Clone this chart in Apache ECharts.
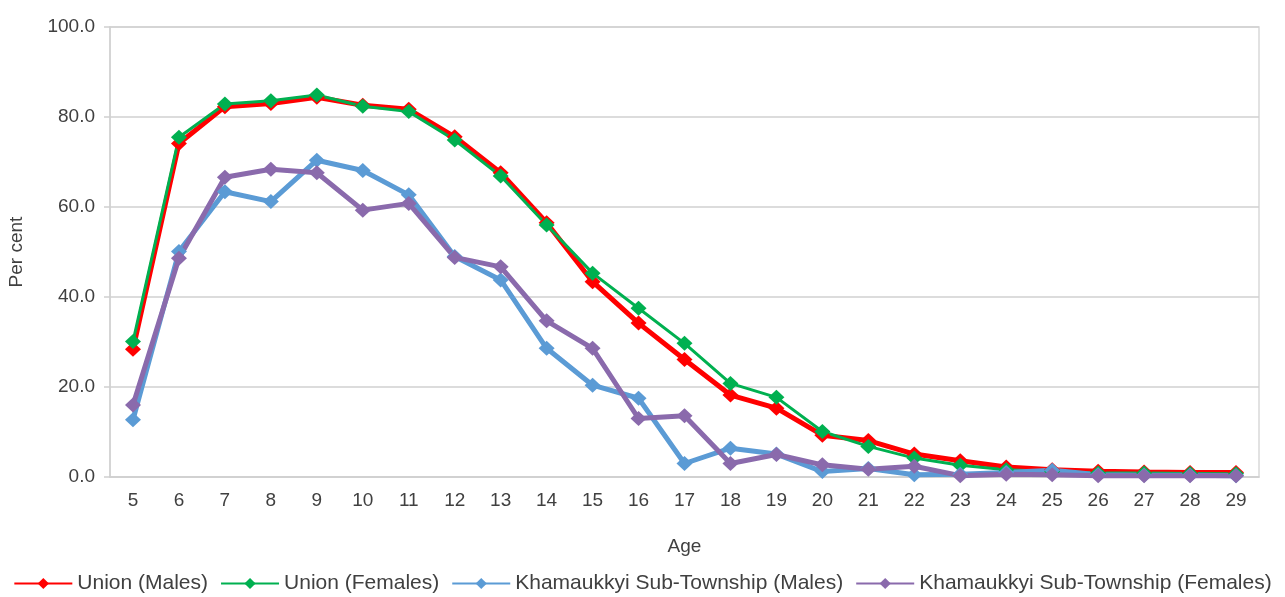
<!DOCTYPE html>
<html>
<head>
<meta charset="utf-8">
<title>Per cent by age</title>
<script src="https://cdn.jsdelivr.net/npm/echarts@6/dist/echarts.min.js"></script>
<style>
  html, body { margin: 0; padding: 0; background: #fff; }
  #chart { width: 1285px; height: 597px; }
</style>
</head>
<body>
<div id="chart"></div>
<script>
// 年龄 5-29
var ages = ['5', '6', '7', '8', '9', '10', '11', '12', '13', '14', '15', '16', '17',
  '18', '19', '20', '21', '22', '23', '24', '25', '26', '27', '28', '29']

var unionMales = [28.4, 74.1, 82.3, 83.0, 84.4, 82.6, 81.7, 75.6, 67.6, 56.5, 43.4, 34.2, 26.1,
  18.2, 15.3, 9.3, 8.1, 5.1, 3.6, 2.2, 1.6, 1.3, 1.1, 1.0, 1.0]
var unionFemales = [30.1, 75.5, 82.9, 83.6, 84.9, 82.4, 81.2, 74.9, 66.9, 56.0, 45.3, 37.5, 29.7,
  20.8, 17.7, 10.1, 6.8, 4.2, 2.6, 1.6, 1.2, 0.9, 0.9, 0.8, 0.7]
var khamMales = [12.7, 50.1, 63.4, 61.2, 70.4, 68.1, 62.7, 49.0, 43.8, 28.6, 20.4, 17.5, 3.0,
  6.4, 5.1, 1.2, 1.9, 0.5, 0.6, 1.0, 1.5, 0.5, 0.4, 0.4, 0.3]
var khamFemales = [16.0, 48.6, 66.6, 68.4, 67.6, 59.3, 60.8, 48.8, 46.7, 34.7, 28.6, 13.0, 13.6,
  3.0, 5.0, 2.7, 1.7, 2.4, 0.3, 0.6, 0.5, 0.3, 0.3, 0.3, 0.3]

var yTicks = [0, 20, 40, 60, 80, 100]

var font = 'Liberation Sans, Arial, sans-serif'

function lineSeries (name, data, color, width) {
  return {
    name: name,
    type: 'line',
    data: data,
    symbol: 'diamond',
    symbolSize: [16, 15],
    lineStyle: { color: color, width: width },
    itemStyle: { color: color },
    emphasis: { disabled: true },
    animation: false
  }
}

var chart = echarts.init(document.getElementById('chart'))
var option = {
  backgroundColor: '#fff',
  textStyle: { fontFamily: font },
  grid: {
    left: 110,
    right: 26,
    top: 27,
    bottom: 120,
    outerBoundsMode: 'none',
    show: true,
    borderColor: '#D9D9D9',
    borderWidth: 1.5
  },
  legend: {
    bottom: -2,
    left: 'center',
    itemWidth: 58,
    itemHeight: 14,
    itemGap: 12,
    textStyle: { fontSize: 21, color: '#404040', fontFamily: font },
    data: ['Union (Males)', 'Union (Females)', 'Khamaukkyi Sub-Township (Males)', 'Khamaukkyi Sub-Township (Females)']
  },
  xAxis: {
    type: 'category',
    data: ages,
    boundaryGap: true,
    name: 'Age',
    nameLocation: 'middle',
    nameGap: 60,
    nameTextStyle: { fontSize: 19, color: '#404040' },
    axisLine: { lineStyle: { color: '#D0D0D0', width: 1.5 } },
    axisTick: { show: false },
    axisLabel: { fontSize: 19, color: '#404040', margin: 14 }
  },
  yAxis: {
    type: 'value',
    min: yTicks[0],
    max: yTicks[yTicks.length - 1],
    interval: 20,
    name: 'Per cent',
    nameLocation: 'middle',
    nameGap: 84,
    nameTextStyle: { fontSize: 19, color: '#404040' },
    axisLine: { show: true, lineStyle: { color: '#D0D0D0', width: 1.5 } },
    axisTick: { show: true, length: 6, lineStyle: { color: '#D0D0D0', width: 1.5 } },
    axisLabel: {
      fontSize: 19,
      color: '#404040',
      margin: 15,
      formatter: function (v) { return v.toFixed(1) }
    },
    splitLine: { lineStyle: { color: '#D0D0D0', width: 1.5 } }
  },
  series: [
    lineSeries('Union (Males)', unionMales, '#FF0000', 5),
    lineSeries('Union (Females)', unionFemales, '#00B050', 3),
    lineSeries('Khamaukkyi Sub-Township (Males)', khamMales, '#5B9BD5', 5),
    lineSeries('Khamaukkyi Sub-Township (Females)', khamFemales, '#8A6AAC', 5)
  ]
}

chart.setOption(option)
window.addEventListener('resize', function () {
  chart.resize()
})
</script>
</body>
</html>
